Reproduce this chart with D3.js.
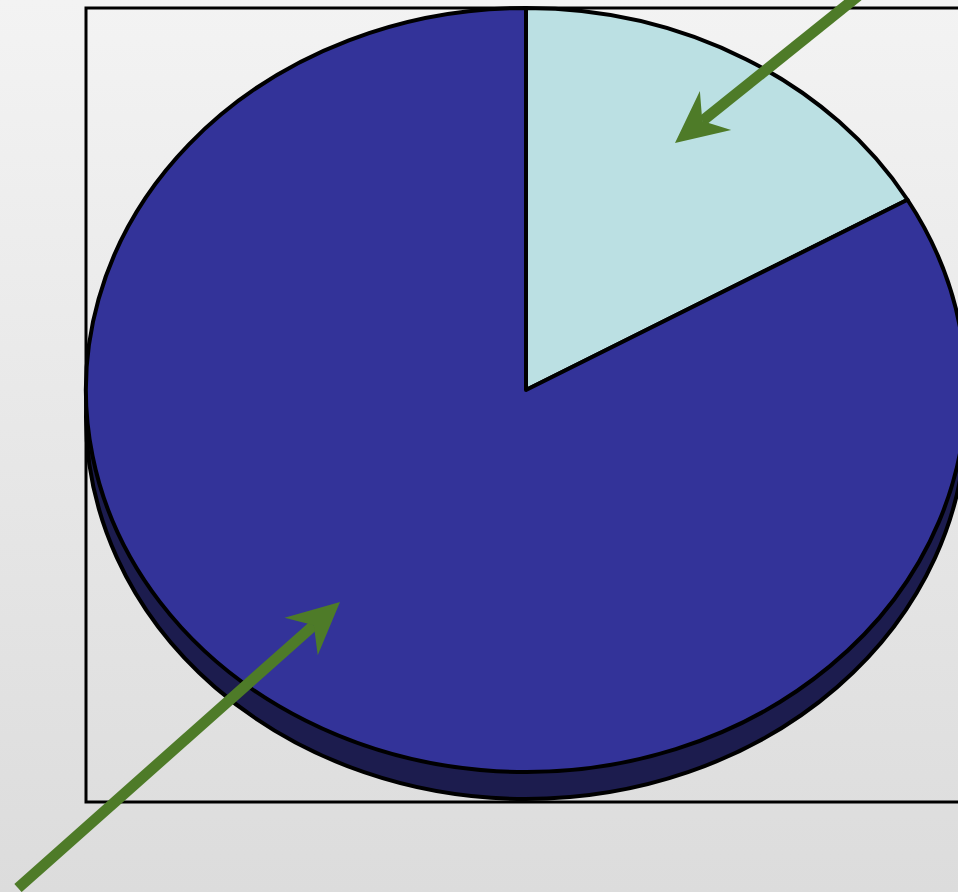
<!DOCTYPE html>
<html><head><meta charset="utf-8">
<script src="https://cdn.jsdelivr.net/npm/d3@7"></script>
<style>html,body{margin:0;padding:0;overflow:hidden;background:#e8e8e8}</style>
</head><body>
<svg id="c" width="958" height="892"></svg>
<script>
const categories = ["Slice A", "Slice B"];
const values = [16.7, 83.3];
const sliceColors = ["#bbe0e3", "#333399"];

const W = 958, H = 892;
const svg = d3.select("#c");
const defs = svg.append("defs");
const g = defs.append("linearGradient").attr("id","bg").attr("x1",0).attr("y1",0).attr("x2",0).attr("y2",1);
g.append("stop").attr("offset","0%").attr("stop-color","#f3f3f3");
g.append("stop").attr("offset","100%").attr("stop-color","#dcdcdc");
svg.append("rect").attr("width",W).attr("height",H).attr("fill","url(#bg)");

// plot frame
svg.append("rect").attr("x",86).attr("y",8).attr("width",900).attr("height",794)
  .attr("fill","none").attr("stroke","#000").attr("stroke-width",3);

const cx = 526, cy = 390, rx = 440, ry = 382, depth = 27;

// depth (side of 3D pie)
svg.append("ellipse").attr("cx",cx).attr("cy",cy+depth).attr("rx",rx).attr("ry",ry)
  .attr("fill","#1c1c4e").attr("stroke","#000").attr("stroke-width",4);
svg.append("rect").attr("x",cx-rx).attr("y",cy).attr("width",2*rx).attr("height",depth)
  .attr("fill","#1c1c4e");

const pie = d3.pie().sort(null).value(d => d.v);
const arcs = pie(categories.map((c,i)=>({c, v: values[i]})));
const arc = d3.arc().innerRadius(0).outerRadius(1);

svg.append("g").attr("transform",`translate(${cx},${cy}) scale(${rx},${ry})`)
  .selectAll("path").data(arcs).join("path")
  .attr("d", arc)
  .attr("fill", (d,i) => sliceColors[i])
  .attr("stroke","#000").attr("stroke-width",4)
  .attr("vector-effect","non-scaling-stroke")
  .attr("stroke-linejoin","round");

// arrows
const arrowColor = "#4e7b28";
function arrow(x1,y1,x2,y2){
  const ang = Math.atan2(y2-y1,x2-x1);
  const L = 52, back = 35, wid = 25;
  const bx = x2 - L*Math.cos(ang), by = y2 - L*Math.sin(ang);
  const nx = -Math.sin(ang), ny = Math.cos(ang);
  const nbx = x2 - back*Math.cos(ang), nby = y2 - back*Math.sin(ang);
  svg.append("line").attr("x1",x1).attr("y1",y1).attr("x2",nbx).attr("y2",nby)
    .attr("stroke",arrowColor).attr("stroke-width",11);
  svg.append("path").attr("d",`M${x2},${y2}L${bx+nx*wid},${by+ny*wid}L${nbx},${nby}L${bx-nx*wid},${by-ny*wid}Z`)
    .attr("fill",arrowColor);
}
arrow(858,-4,675,143);
arrow(18,888,340,602);
</script>
</body></html>
